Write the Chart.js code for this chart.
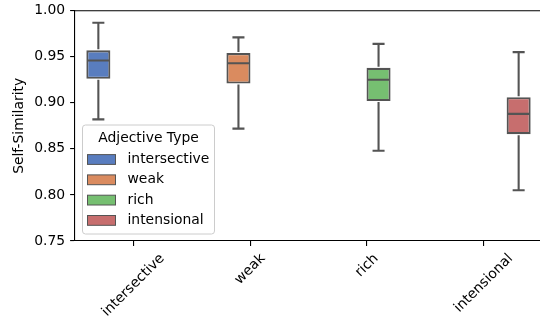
<!DOCTYPE html>
<html>
<head>
<meta charset="utf-8">
<script src="https://cdn.jsdelivr.net/npm/chart.js@4.4.0/dist/chart.umd.min.js"></script>
<style>
html, body { margin: 0; padding: 0; background: #fff; overflow: hidden; }
#wrap { width: 542px; height: 323px; }
</style>
</head>
<body>
<div id="wrap"><canvas id="boxChart" width="542" height="323"></canvas></div>
<script>
const categories = ['intersective', 'weak', 'rich', 'intensional'];
const whiskerLow = [0.882, 0.872, 0.848, 0.805];
const q1 = [0.926, 0.921, 0.902, 0.866];
const median = [0.946, 0.943, 0.925, 0.888];
const q3 = [0.957, 0.954, 0.938, 0.906];
const whiskerHigh = [0.987, 0.971, 0.964, 0.955];
const yTicks = [0.75, 0.80, 0.85, 0.90, 0.95, 1.00];
const colors = ['#597dbf', '#da8b5f', '#76bf71', '#c76e6e'];
const legendTitle = 'Adjective Type';
const yLabel = 'Self-Similarity';

const FONT = 'DejaVu Sans';
const FS = 13.9;
const EDGE = '#545454';
const LW = 2.08;

Chart.defaults.font.family = FONT;
Chart.defaults.font.size = FS;
Chart.defaults.color = '#000';

// one dataset per adjective type, only filled at its own category (like seaborn's hue dodge)
const datasets = categories.map((name, i) => ({
    label: name,
    data: categories.map((c, j) => j === i ? [q1[i], q3[i]] : null),
    backgroundColor: colors[i],
    borderColor: EDGE,
    borderWidth: LW,
    borderSkipped: false,
    categoryPercentage: 0.8,
    barPercentage: 1.03
}));

// whiskers, caps and medians
const boxExtras = {
    id: 'boxExtras',
    afterDatasetsDraw(chart) {
        const ctx = chart.ctx;
        const y = chart.scales.y;
        categories.forEach((c, i) => {
            const bar = chart.getDatasetMeta(i).data[i];
            const half = bar.width / 2;
            const cap = bar.width / 4;
            const yLo = y.getPixelForValue(whiskerLow[i]);
            const yHi = y.getPixelForValue(whiskerHigh[i]);
            ctx.save();
            ctx.strokeStyle = EDGE;
            ctx.lineWidth = LW;
            ctx.beginPath();
            ctx.moveTo(bar.x, y.getPixelForValue(q3[i]) - 1);
            ctx.lineTo(bar.x, yHi);
            ctx.moveTo(bar.x, y.getPixelForValue(q1[i]) + 1);
            ctx.lineTo(bar.x, yLo);
            ctx.moveTo(bar.x - cap, yHi);
            ctx.lineTo(bar.x + cap, yHi);
            ctx.moveTo(bar.x - cap, yLo);
            ctx.lineTo(bar.x + cap, yLo);
            const ym = y.getPixelForValue(median[i]);
            ctx.moveTo(bar.x - half + 1, ym);
            ctx.lineTo(bar.x + half - 1, ym);
            ctx.stroke();
            ctx.restore();
        });
    }
};

// top/right spines, rotated x labels (centered like matplotlib), legend
const frameAndLabels = {
    id: 'frameAndLabels',
    afterDraw(chart) {
        const ctx = chart.ctx;
        const a = chart.chartArea;
        ctx.save();
        ctx.strokeStyle = '#000';
        ctx.lineWidth = 1.1;
        ctx.beginPath();
        ctx.moveTo(a.left, a.top);
        ctx.lineTo(a.right, a.top);
        ctx.lineTo(a.right, a.bottom);
        ctx.stroke();

        // x tick labels
        const xs = chart.scales.x;
        ctx.font = `${FS}px ${FONT}`;
        ctx.fillStyle = '#000';
        ctx.textAlign = 'center';
        ctx.textBaseline = 'middle';
        categories.forEach((c, i) => {
            const w = ctx.measureText(c).width;
            const side = (w + 16) * Math.SQRT1_2;
            const cx = xs.getPixelForTick(i);
            const cy = a.bottom + 9.7 + side / 2;
            ctx.save();
            ctx.translate(cx, cy);
            ctx.rotate(-Math.PI / 4);
            ctx.fillText(c, 0, 0);
            ctx.restore();
        });

        // legend
        const x0 = a.left + 7.5, y0 = a.bottom - 116, w = 132, h = 109;
        ctx.fillStyle = 'rgba(255,255,255,0.8)';
        ctx.strokeStyle = '#cccccc';
        ctx.lineWidth = 1;
        ctx.beginPath();
        ctx.roundRect(x0, y0, w, h, 3);
        ctx.fill();
        ctx.stroke();
        ctx.fillStyle = '#000';
        ctx.textAlign = 'center';
        ctx.fillText(legendTitle, x0 + w / 2, y0 + 13);
        ctx.textAlign = 'left';
        categories.forEach((c, i) => {
            const cy = y0 + 34.5 + i * 20.3;
            ctx.fillStyle = colors[i];
            ctx.fillRect(x0 + 5, cy - 4.9, 28, 9.8);
            ctx.strokeStyle = EDGE;
            ctx.lineWidth = 1;
            ctx.strokeRect(x0 + 5, cy - 4.9, 28, 9.8);
            ctx.fillStyle = '#000';
            ctx.fillText(c, x0 + 45, cy);
        });
        ctx.restore();
    }
};

new Chart(document.getElementById('boxChart').getContext('2d'), {
    type: 'bar',
    data: { labels: categories, datasets: datasets },
    options: {
        responsive: false,
        animation: false,
        layout: { padding: { top: 10.7, right: 0, left: 0, bottom: 0 } },
        plugins: { legend: { display: false }, tooltip: { enabled: false } },
        scales: {
            x: {
                offset: true,
                grid: { offset: false, drawOnChartArea: false, drawTicks: true, tickLength: 4.9, color: '#000', lineWidth: 1.1 },
                border: { display: true, color: '#000', width: 1.1 },
                ticks: { display: false },
                afterFit(scale) { scale.height = 82; }
            },
            y: {
                min: 0.75,
                max: 1.0,
                afterBuildTicks(scale) { scale.ticks = yTicks.map(v => ({ value: v })); },
                grid: { drawOnChartArea: false, drawTicks: true, tickLength: 4.9, color: '#000', lineWidth: 1.1 },
                border: { display: true, color: '#000', width: 1.1 },
                ticks: { padding: 4.9, callback: v => Number(v).toFixed(2) },
                title: { display: true, text: yLabel, padding: { top: 11.3, bottom: 0 } },
                afterFit(scale) {
                    scale.width = 75;
                    scale.paddingTop = 0;
                    scale.paddingBottom = 0;
                }
            }
        }
    },
    plugins: [boxExtras, frameAndLabels]
});
</script>
</body>
</html>
